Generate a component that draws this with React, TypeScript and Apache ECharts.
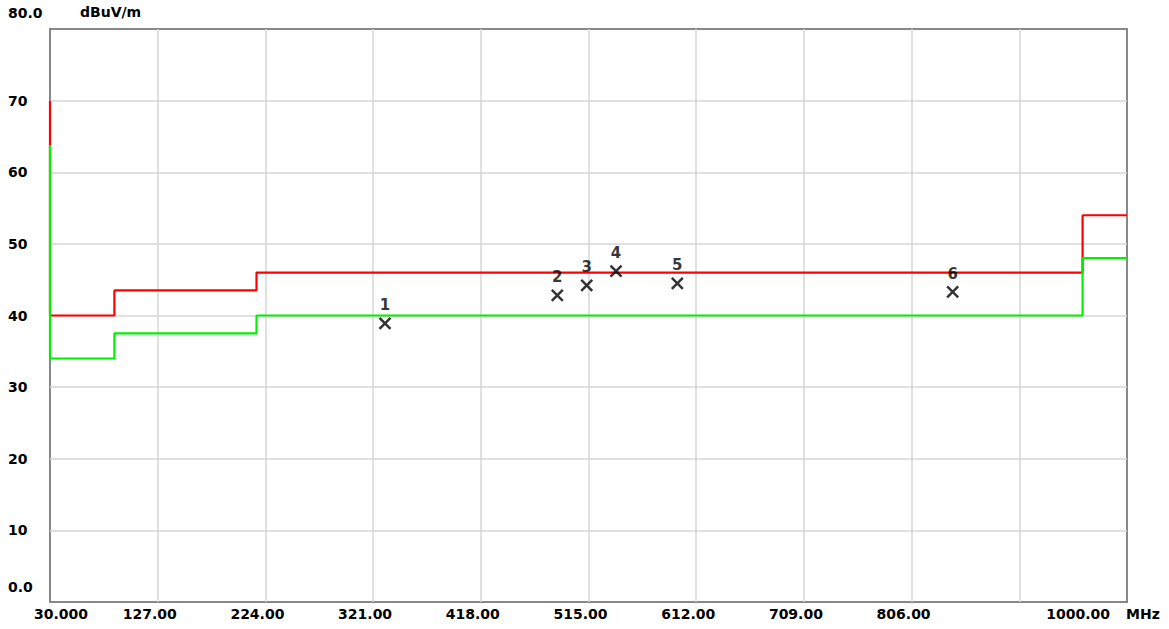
import React, { useEffect, useRef } from "react";
import * as echarts from "echarts";

// Axis ticks
const xMin = 30;
const xMax = 1000;
const xStep = 97;
const yMin = 0;
const yMax = 80;
const yStep = 10;

// Limit lines (step shapes): frequency in MHz, level in dBuV/m
const limitFreq = [30, 30, 88, 88, 216, 216, 960, 960, 1000];
const limitLevel = [70, 40, 40, 43.5, 43.5, 46, 46, 54, 54];
const marginFreq = [30, 30, 88, 88, 216, 216, 960, 960, 1000];
const marginLevel = [63.8, 34, 34, 37.5, 37.5, 40, 40, 48, 48];

// Measured peaks
const markerFreq = [331.7, 486.9, 513.4, 539.8, 595.0, 843.0];
const markerLevel = [38.9, 42.8, 44.2, 46.2, 44.5, 43.3];
const markerLabels = ["1", "2", "3", "4", "5", "6"];

const unitY = "dBuV/m";
const unitX = "MHz";

const FONT = "DejaVu Sans";

export default function App() {
  const ref = useRef<HTMLDivElement>(null);
  useEffect(() => {
    document.body.style.margin = "0";
    if (!ref.current) return;
    const chart = echarts.init(ref.current, undefined, { renderer: "svg" });
    const base = { fontFamily: FONT, fontWeight: "bold" as const, fontSize: 14, color: "#000" };
    chart.setOption({
      animation: false,
      backgroundColor: "#fff",
      grid: {
        left: 50,
        right: 42,
        top: 29,
        bottom: 27,
        show: true,
        borderColor: "#888",
        borderWidth: 2,
        backgroundColor: "transparent",
      },
      xAxis: {
        type: "value",
        min: xMin,
        max: xMax,
        interval: xStep,
        axisLine: { show: false },
        axisTick: { show: false },
        splitLine: {
          show: true,
          showMinLine: false,
          showMaxLine: false,
          lineStyle: { color: "#d6d6d6", width: 1.5 },
        },
        axisLabel: {
          ...base,
          margin: 5,
          formatter: (v: number) => {
            if (v === xMin) return "{f|" + v.toFixed(3) + "}";
            if (v === xMax) return "{l|" + v.toFixed(2) + "}{u|" + unitX + "}";
            if (v === 903) return "";
            return "{n|" + v.toFixed(2) + "}";
          },
          rich: {
            f: { ...base, padding: [0, 0, 0, 22] },
            n: { ...base, padding: [0, 16, 0, 0] },
            l: { ...base },
            u: { ...base, padding: [0, 48, 0, 16] },
          },
        },
      },
      yAxis: {
        type: "value",
        min: yMin,
        max: yMax,
        interval: yStep,
        axisLine: { show: false },
        axisTick: { show: false },
        splitLine: {
          show: true,
          showMinLine: false,
          showMaxLine: false,
          lineStyle: { color: "#d6d6d6", width: 1.5 },
        },
        axisLabel: {
          ...base,
          align: "left",
          margin: 42,
          formatter: (v: number) => {
            if (v === yMax) return "{t|" + v.toFixed(1) + "}";
            if (v === yMin) return "{z|" + v.toFixed(1) + "}";
            return "{n|" + v + "}";
          },
          rich: {
            t: { ...base, padding: [0, 0, 32, 0] },
            z: { ...base, padding: [0, 0, 30, 0] },
            n: { ...base },
          },
        },
      },
      graphic: [
        {
          type: "text",
          left: 80,
          top: 5,
          style: { text: unitY, font: "bold 14px " + FONT, fill: "#000" },
        },
      ],
      series: [
        {
          type: "line",
          data: limitFreq.map((f, i) => [f, limitLevel[i]]),
          symbol: "none",
          lineStyle: { color: "#ff0000", width: 2.2 },
          z: 2,
        },
        {
          type: "line",
          data: marginFreq.map((f, i) => [f, marginLevel[i]]),
          symbol: "none",
          lineStyle: { color: "#00f000", width: 2.2 },
          z: 3,
        },
        {
          type: "scatter",
          data: markerFreq.map((f, i) => ({ value: [f, markerLevel[i]], name: markerLabels[i] })),
          symbol: "path://M0,0L10,10M10,0L0,10",
          symbolSize: 11,
          itemStyle: { color: "transparent", borderColor: "#000", borderWidth: 2.5 },
          label: {
            show: true,
            position: "top",
            distance: 4,
            formatter: (p: any) => p.name,
            ...base,
            fontSize: 15,
          },
          z: 4,
        },
      ],
    });
    return () => chart.dispose();
  }, []);
  return (
    <div
      ref={ref}
      style={{ position: "absolute", left: 0, top: 0, width: 1169, height: 629, background: "#fff" }}
    />
  );
}
